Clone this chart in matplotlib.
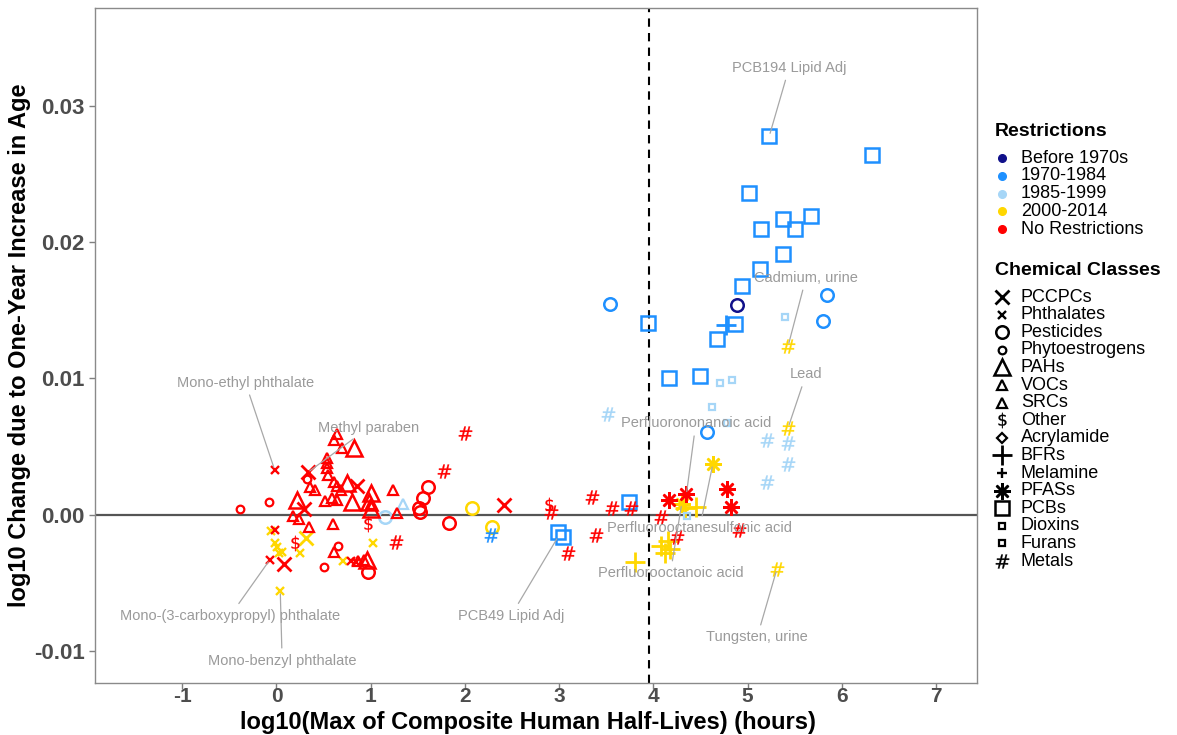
import matplotlib
matplotlib.use("Agg")
import matplotlib.pyplot as plt

plt.rcParams["font.family"] = ["Liberation Sans", "DejaVu Sans"]
plt.rcParams["axes.unicode_minus"] = False

# restriction codes: B = before 1970s, E = 1970-1984, L = 1985-1999,
# G = 2000-2014, N = no restrictions
restriction_codes = ["B", "E", "L", "G", "N"]
restriction_names = ["Before 1970s", "1970-1984", "1985-1999", "2000-2014", "No Restrictions"]
restriction_colors = {"B": "#10108a", "E": "#1e90ff", "L": "#a6d6f7", "G": "#ffd700", "N": "#ff0000"}

# values: x = log10 max half-life (hours), y = log10 change per year of age
pccpc_x = [0.33, 0.29, 0.08, 0.85, 2.41, 0.31]
pccpc_y = [0.0031, 0.0004, -0.0036, 0.0021, 0.0007, -0.0017]
pccpc_r = ["N", "N", "N", "N", "N", "G"]

phthal_x = [-0.02, -0.07, -0.02, 0.79, 0.84, -0.06, -0.02, 0.01, 0.03, 0.06, 0.25, 0.04, 1.02, 0.71]
phthal_y = [0.0033, -0.0033, -0.0011, -0.0034, -0.0035, -0.0012, -0.0021, -0.0024,
            -0.0028, -0.0027, -0.0028, -0.0056, -0.0021, -0.0034]
phthal_r = ["N", "N", "N", "N", "N", "G", "G", "G", "G", "G", "G", "G", "G", "G"]

pest_x = [3.54, 5.84, 5.80, 4.57, 4.89, 1.15, 2.07, 2.29, 1.61, 1.56, 1.51, 1.52, 1.83, 0.97]
pest_y = [0.0155, 0.0161, 0.0142, 0.0061, 0.0154, -0.0002, 0.0005, -0.0009,
          0.0020, 0.0012, 0.0005, 0.0002, -0.0006, -0.0042]
pest_r = ["E", "E", "E", "E", "B", "L", "G", "G", "N", "N", "N", "N", "N", "N"]

phyto_x = [-0.39, -0.08, 0.50, 0.65, 0.32]
phyto_y = [0.0004, 0.0009, -0.0038, -0.0023, 0.0026]
phyto_r = ["N", "N", "N", "N", "N"]

pah_x = [0.22, 0.82, 0.75, 0.80, 1.00, 0.98, 0.96, 1.00]
pah_y = [0.0011, 0.0049, 0.0023, 0.0009, 0.0016, 0.0009, -0.0033, 0.0004]
pah_r = ["N"] * 8

voc_x = [0.36, 0.41, 0.54, 0.54, 0.54, 0.61, 0.64, 0.70, 0.61, 0.64, 0.68, 0.52,
         1.24, 1.28, 0.34, 0.60, 0.61, 0.87, 0.93, 1.34]
voc_y = [0.0020, 0.0018, 0.0042, 0.0038, 0.0034, 0.0055, 0.0059, 0.0049, 0.0024, 0.0021,
         0.0018, 0.0010, 0.0018, 0.0001, -0.0009, -0.0007, -0.0027, -0.0034, -0.0033, 0.0008]
voc_r = ["N"] * 19 + ["L"]

src_x = [0.59, 0.64, 0.18, 0.24, 1.00, 0.55]
src_y = [0.0012, 0.0011, -0.0001, -0.0003, 0.0008, 0.0029]
src_r = ["N"] * 6

other_x = [0.20, 0.97, 2.89]
other_y = [-0.0021, -0.0007, 0.0007]
other_r = ["N", "N", "N"]

acryl_x, acryl_y, acryl_r = [], [], []

bfr_x = [4.77, 3.80, 4.08, 4.15, 4.18, 4.12, 4.33, 4.45]
bfr_y = [0.0139, -0.0035, -0.0023, -0.0019, -0.0025, -0.0028, 0.0005, 0.0006]
bfr_r = ["E", "G", "G", "G", "G", "G", "G", "G"]

melamine_x, melamine_y, melamine_r = [], [], []

pfas_x = [4.17, 4.35, 4.78, 4.82, 4.63, 4.30]
pfas_y = [0.0011, 0.0015, 0.0019, 0.0006, 0.0037, 0.0008]
pfas_r = ["N", "N", "N", "N", "G", "G"]

pcb_x = [5.23, 6.32, 5.01, 5.67, 5.37, 5.14, 5.50, 5.38, 5.13, 4.94, 4.87, 4.67,
         3.94, 4.17, 4.49, 3.74, 2.99, 3.04]
pcb_y = [0.0278, 0.0264, 0.0236, 0.0219, 0.0217, 0.0210, 0.0210, 0.0191, 0.0180, 0.0168,
         0.0140, 0.0129, 0.0141, 0.0100, 0.0102, 0.0009, -0.0013, -0.0016]
pcb_r = ["E"] * 18

dioxin_x = [5.40, 4.71, 4.62, 4.36]
dioxin_y = [0.0145, 0.0097, 0.0079, -0.0001]
dioxin_r = ["L"] * 4

furan_x = [4.83, 4.78]
furan_y = [0.0099, 0.0067]
furan_r = ["L", "L"]

metal_x = [2.00, 1.78, 1.27, 2.91, 3.35, 3.56, 3.76, 3.39, 3.09, 4.08, 4.25, 4.91,
           2.28, 3.52, 5.21, 5.43, 5.43, 5.21, 5.43, 5.43, 5.31]
metal_y = [0.0060, 0.0032, -0.0020, 0.0002, 0.0013, 0.0005, 0.0005, -0.0015, -0.0028,
           -0.0002, -0.0016, -0.0011, -0.0015, 0.0074, 0.0055, 0.0053, 0.0037, 0.0024,
           0.0124, 0.0064, -0.0040]
metal_r = ["N"] * 12 + ["E"] + ["L"] * 5 + ["G"] * 3

# labelled chemicals: point they refer to
ann_labels = ["PCB194 Lipid Adj", "Cadmium, urine", "Lead", "Perfluorononanoic acid",
              "Perfluorooctanesulfonic acid", "Perfluorooctanoic acid", "Tungsten, urine",
              "PCB49 Lipid Adj", "Mono-(3-carboxypropyl) phthalate", "Mono-benzyl phthalate",
              "Mono-ethyl phthalate", "Methyl paraben"]
ann_x = [5.23, 5.43, 5.43, 4.35, 4.63, 4.30, 5.31, 2.99, -0.07, 0.04, -0.02, 0.33]
ann_y = [0.0278, 0.0124, 0.0064, 0.0015, 0.0037, 0.0008, -0.0040, -0.0016, -0.0033,
         -0.0056, 0.0033, 0.0031]
ann_text_pos = [(5.44, 0.0328), (5.62, 0.0174), (5.62, 0.0103), (4.45, 0.0067),
                (4.49, -0.0010), (4.18, -0.0043), (5.10, -0.0090), (2.49, -0.0074),
                (-0.49, -0.0074), (0.06, -0.0107), (-0.33, 0.0097), (0.98, 0.0064)]

# class name, data, marker, marker size (pt), edge width
classes = [
    ("PCCPCs", pccpc_x, pccpc_y, pccpc_r, "x", 10, 2.0),
    ("Phthalates", phthal_x, phthal_y, phthal_r, "x", 5.5, 1.7),
    ("Pesticides", pest_x, pest_y, pest_r, "o", 9, 1.8),
    ("Phytoestrogens", phyto_x, phyto_y, phyto_r, "o", 5.5, 1.6),
    ("PAHs", pah_x, pah_y, pah_r, "^", 11.5, 1.8),
    ("VOCs", voc_x, voc_y, voc_r, "^", 6.5, 1.6),
    ("SRCs", src_x, src_y, src_r, "^", 6.5, 1.6),
    ("Other", other_x, other_y, other_r, r"$\$$", 11, 0.2),
    ("Acrylamide", acryl_x, acryl_y, acryl_r, "D", 5, 1.6),
    ("BFRs", bfr_x, bfr_y, bfr_r, "+", 14, 2.0),
    ("Melamine", melamine_x, melamine_y, melamine_r, "+", 7.5, 1.7),
    ("PFASs", pfas_x, pfas_y, pfas_r, (8, 2, 0), 12, 1.8),
    ("PCBs", pcb_x, pcb_y, pcb_r, "s", 9.5, 1.8),
    ("Dioxins", dioxin_x, dioxin_y, dioxin_r, "s", 5, 1.6),
    ("Furans", furan_x, furan_y, furan_r, "s", 5, 1.6),
    ("Metals", metal_x, metal_y, metal_r, r"$\#$", 10, 0.2),
]
text_markers = {r"$\$$", r"$\#$"}

fig = plt.figure(figsize=(11.77, 7.35), dpi=100)
ax = fig.add_axes([95 / 1177, 52 / 735, 882 / 1177, 675 / 735])

ax.axhline(0, color="#555555", lw=1.6, zorder=1)
ax.axvline(3.95, color="black", lw=1.5, ls=(0, (4, 3)), zorder=1)

for name, xs, ys, rs, marker, ms, mew in classes:
    for code in restriction_codes:
        px = [x for x, r in zip(xs, rs) if r == code]
        py = [y for y, r in zip(ys, rs) if r == code]
        if not px:
            continue
        col = restriction_colors[code]
        filled = col if marker in text_markers else "none"
        ax.plot(px, py, ls="none", marker=marker, ms=ms, mew=mew,
                mec=col, mfc=filled, zorder=3)

for label, px, py, (tx, ty) in zip(ann_labels, ann_x, ann_y, ann_text_pos):
    ax.annotate(label, xy=(px, py), xytext=(tx, ty), ha="center", va="center",
                fontsize=10.5, color="#9a9a9a", zorder=4,
                arrowprops=dict(arrowstyle="-", color="#a8a8a8", lw=0.9,
                                shrinkA=2, shrinkB=2))

ax.set_xlim(-1.926, 7.434)
ax.set_ylim(-0.01235, 0.03719)
ax.set_xticks(range(-1, 8))
ax.set_yticks([-0.01, 0.0, 0.01, 0.02, 0.03])
ax.set_yticklabels(["-0.01", "0.00", "0.01", "0.02", "0.03"])
ax.tick_params(colors="#7f7f7f", length=4, width=1, labelsize=16, labelcolor="#4d4d4d")
ax.tick_params(axis="x", labelsize=15, pad=-1)
for lbl in ax.get_xticklabels() + ax.get_yticklabels():
    lbl.set_fontweight("bold")
for sp in ax.spines.values():
    sp.set_color("#8a8a8a")
    sp.set_linewidth(1.0)

fig.text(528 / 1177, 1 - 722 / 735, "log10(Max of Composite Human Half-Lives) (hours)",
         ha="center", va="center", fontsize=17, fontweight="bold")
fig.text(20 / 1177, 1 - 345 / 735, "log10 Change due to One-Year Increase in Age",
         ha="center", va="center", rotation=90, fontsize=17, fontweight="bold")

# legends, laid out in pixel coordinates
lax = fig.add_axes([0, 0, 1, 1])
lax.set_xlim(0, 1177)
lax.set_ylim(735, 0)
lax.axis("off")

lax.text(995, 131, "Restrictions", fontsize=14, fontweight="bold", va="center")
for i, code in enumerate(restriction_codes):
    yy = 158 + i * 17.8
    lax.plot(1002, yy, "o", ms=5.5, color=restriction_colors[code])
    lax.text(1021, yy, restriction_names[i], fontsize=13, va="center")

lax.text(995, 270, "Chemical Classes", fontsize=14, fontweight="bold", va="center")
for i, (name, xs, ys, rs, marker, ms, mew) in enumerate(classes):
    yy = 297 + i * 17.6
    filled = "black" if marker in text_markers else "none"
    lax.plot(1002, yy, ls="none", marker=marker, ms=ms, mew=mew, mec="black", mfc=filled)
    lax.text(1021, yy, name, fontsize=13, va="center")

fig.savefig("out.png", dpi=100)
